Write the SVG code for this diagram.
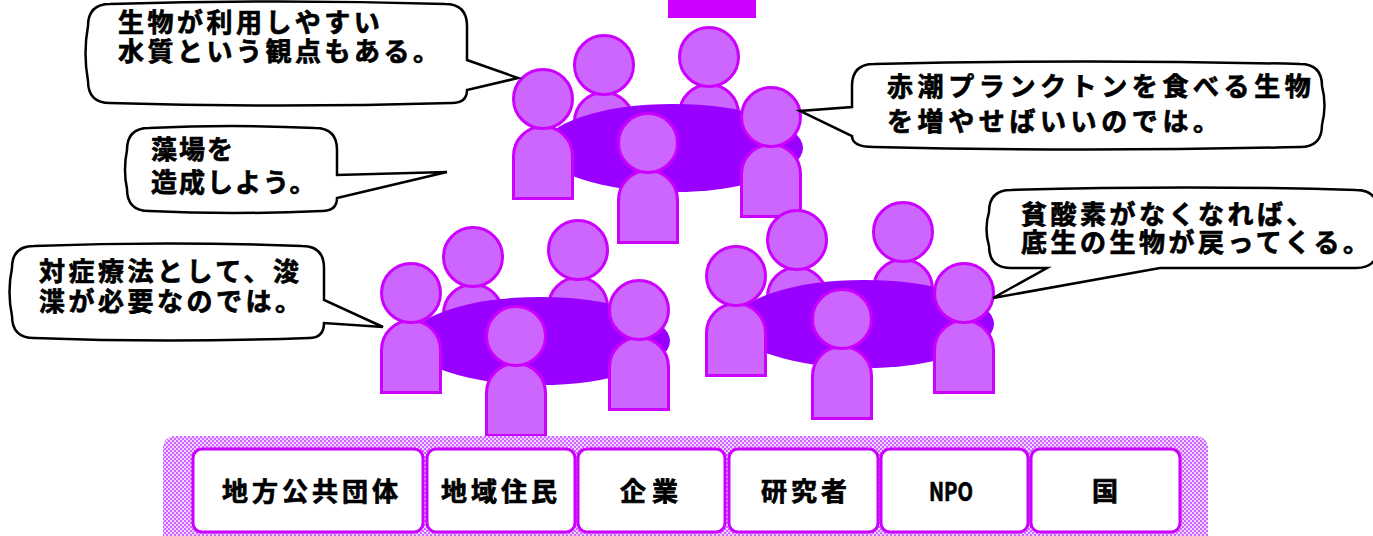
<svg xmlns="http://www.w3.org/2000/svg" xmlns:xlink="http://www.w3.org/1999/xlink" width="1373" height="536" viewBox="0 0 1373 536">
  <style>
    .fig { fill: #CC66FF; stroke: #CC00FF; stroke-width: 3; }
    .table { fill: #9900FF; }
    .bubble { fill: #FFFFFF; stroke: #000000; stroke-width: 2.5; stroke-linejoin: miter; }
    .say { font-family: "Noto Sans CJK JP", "Noto Sans", sans-serif; font-weight: bold; font-size: 26px; fill: #000000; stroke: #000000; stroke-width: 0.7; letter-spacing: 3.5px; }
    .box { fill: #FFFFFF; stroke: #CC00FF; stroke-width: 3; }
    .lbl { font-family: "Noto Sans CJK JP", "Noto Sans", sans-serif; font-weight: bold; font-size: 26px; fill: #000000; stroke: #000000; stroke-width: 0.7; text-anchor: middle; letter-spacing: 4px; }
  </style>
  <defs>
    <!-- one seated person: head centre at the origin -->
    <g id="person">
      <path class="fig" d="M -29.5,99.5 V 57 A 29.5 29.5 0 0 1 29.5 57 V 99.5 Z"/>
      <circle class="fig" cx="0" cy="0" r="29.5"/>
    </g>
    <pattern id="mesh" width="4" height="4" patternUnits="userSpaceOnUse">
      <rect width="4" height="4" fill="#F3D2FF"/>
      <rect x="0" y="0" width="2" height="2" fill="#CC66FF"/>
      <rect x="2" y="2" width="2" height="2" fill="#CC66FF"/>
    </pattern>
  </defs>

  <!-- marker bar at the top edge -->
  <rect id="top-bar" x="668" y="0" width="88" height="18" fill="#CC00FF"/>

  <!-- top round table -->
  <g id="table-top">
    <use href="#person" x="604" y="65"/>
    <use href="#person" x="709" y="57"/>
    <ellipse class="table" cx="673" cy="148" rx="130" ry="44"/>
    <use href="#person" x="543" y="99"/>
    <use href="#person" x="648" y="143"/>
    <use href="#person" x="771" y="117"/>
  </g>

  <!-- lower-left round table -->
  <g id="table-left">
    <use href="#person" x="473" y="257"/>
    <use href="#person" x="578" y="250"/>
    <ellipse class="table" cx="540" cy="341" rx="130" ry="44"/>
    <use href="#person" x="411" y="293"/>
    <use href="#person" x="516" y="336"/>
    <use href="#person" x="639" y="310"/>
  </g>

  <!-- lower-right round table -->
  <g id="table-right">
    <use href="#person" x="797" y="240"/>
    <use href="#person" x="903" y="232"/>
    <ellipse class="table" cx="864" cy="324" rx="130" ry="44"/>
    <use href="#person" x="736" y="276"/>
    <use href="#person" x="842" y="319"/>
    <use href="#person" x="964" y="293"/>
  </g>

  <!-- speech bubbles (the tails are the connectors to the speakers) -->
  <g id="connectors">
    <g id="bubble-water">
      <path class="bubble" d="M 110,4 Q 277,-1 445,4 Q 467,4 467,26 L 467,60 L 518,78 L 467,90 Q 467,103 452,103 Q 277,108 110,103 Q 88,103 88,81 Q 83,53 88,26 Q 88,4 110,4 Z"/>
      <text class="say" x="118" y="32">生物が利用しやすい</text>
      <text class="say" x="118" y="61">水質という観点もある。</text>
    </g>
    <g id="bubble-redtide">
      <path class="bubble" d="M 874,64 Q 1087,59 1300,64 Q 1322,64 1322,86 Q 1327,105 1322,125 Q 1322,147 1300,147 Q 1087,152 874,147 Q 852,147 852,136 L 800,111 L 852,107 L 852,86 Q 852,64 874,64 Z"/>
      <text class="say" x="887" y="96" style="letter-spacing:4.6px">赤潮プランクトンを食べる生物</text>
      <text class="say" x="887" y="131" style="letter-spacing:4.6px">を増やせばいいのでは。</text>
    </g>
    <g id="bubble-seaweed">
      <path class="bubble" d="M 149,128 Q 232,124 315,128 Q 337,128 337,150 L 337,175 L 447,172 L 337,198 Q 337,211 322,211 Q 232,215 149,211 Q 127,211 127,189 Q 123,170 127,150 Q 127,128 149,128 Z"/>
      <text class="say" x="151" y="159" style="letter-spacing:2px">藻場を</text>
      <text class="say" x="151" y="192" style="letter-spacing:2px">造成しよう。</text>
    </g>
    <g id="bubble-dredge">
      <path class="bubble" d="M 34,246 Q 168,241 302,246 Q 324,246 324,268 L 324,300 L 383,327 L 324,323 Q 324,338 309,338 Q 168,343 34,338 Q 12,338 12,316 Q 7,292 12,268 Q 12,246 34,246 Z"/>
      <text class="say" x="39" y="281">対症療法として、浚</text>
      <text class="say" x="39" y="311">渫が必要なのでは。</text>
    </g>
    <g id="bubble-oxygen">
      <path class="bubble" d="M 1011,190 Q 1190,185 1356,190 Q 1378,190 1378,212 L 1378,246 Q 1378,268 1356,268 L 1160,268 L 993,298 L 1047,268 L 1011,268 Q 989,268 989,246 Q 984,229 989,212 Q 989,190 1011,190 Z"/>
      <text class="say" x="1021" y="224">貧酸素がなくなれば、</text>
      <text class="say" x="1021" y="252">底生の生物が戻ってくる。</text>
    </g>
  </g>

  <!-- stakeholder strip -->
  <rect id="strip" x="163" y="436" width="1045" height="112" rx="12" fill="url(#mesh)"/>
  <g id="box-local-gov">
    <rect class="box" x="193" y="449" width="230" height="83" rx="9"/>
    <text class="lbl" x="312" y="501">地方公共団体</text>
  </g>
  <g id="box-residents">
    <rect class="box" x="427" y="449" width="148" height="83" rx="9"/>
    <text class="lbl" x="501" y="501">地域住民</text>
  </g>
  <g id="box-business">
    <rect class="box" x="578" y="449" width="147" height="83" rx="9"/>
    <text class="lbl" x="652" y="501" style="letter-spacing:6px">企業</text>
  </g>
  <g id="box-research">
    <rect class="box" x="729" y="449" width="149" height="83" rx="9"/>
    <text class="lbl" x="806" y="501">研究者</text>
  </g>
  <g id="box-npo">
    <rect class="box" x="881" y="449" width="147" height="83" rx="9"/>
    <text class="lbl" x="951" y="501" style="letter-spacing:0" textLength="44" lengthAdjust="spacingAndGlyphs">NPO</text>
  </g>
  <g id="box-state">
    <rect class="box" x="1031" y="449" width="149" height="83" rx="9"/>
    <text class="lbl" x="1107" y="501">国</text>
  </g>
</svg>
